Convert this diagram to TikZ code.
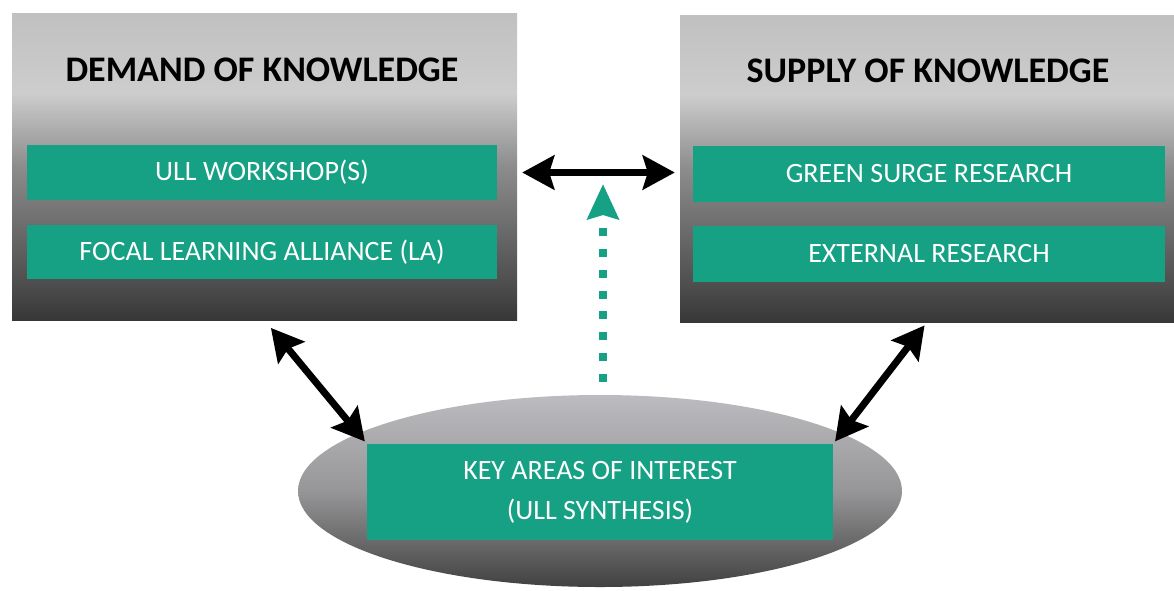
\documentclass[tikz,border=0pt]{standalone}
\usepackage{fontspec}
\setmainfont{Carlito}
\usetikzlibrary{arrows.meta,shapes.geometric,calc}

\definecolor{teal}{RGB}{22,160,132}
\definecolor{pnlbot}{RGB}{55,55,55}
\definecolor{pnllow}{RGB}{78,78,78}
\definecolor{pnlmid}{RGB}{140,140,140}
\definecolor{pnlhi}{RGB}{205,205,205}
\definecolor{pnltop}{RGB}{192,192,192}
\definecolor{elbot}{RGB}{65,65,65}
\definecolor{elmid}{RGB}{150,150,152}
\definecolor{eltop}{RGB}{188,188,192}

% the shading's 25bp..75bp band is mapped onto the filled path
\pgfdeclareverticalshading{panelshade}{100bp}{%
  color(0bp)=(pnlbot); color(25bp)=(pnlbot); color(31bp)=(pnllow);
  color(50bp)=(pnlmid); color(62bp)=(pnlhi); color(75bp)=(pnltop);
  color(100bp)=(pnltop)}
\pgfdeclareverticalshading{ovalshade}{100bp}{%
  color(0bp)=(elbot); color(25bp)=(elbot); color(50bp)=(elmid);
  color(75bp)=(eltop); color(100bp)=(eltop)}

\tikzset{
  panel/.style={rectangle, shading=panelshade, draw=none, inner sep=0pt},
  title/.style={font=\fontsize{36}{40}\selectfont\bfseries, text=black},
  bar/.style={rectangle, fill=teal, text=white, inner sep=0pt,
    font=\fontsize{28}{40}\selectfont, align=center},
  oval/.style={ellipse, shading=ovalshade, draw=none, inner sep=0pt},
  link/.style={line width=7pt, black,
    {Stealth[length=32pt,width=34pt,inset=5pt]}-{Stealth[length=32pt,width=34pt,inset=5pt]}},
  hint/.style={line width=8pt, teal, dash pattern=on 8pt off 12.8pt,
    -{Stealth[length=35pt,width=31pt,inset=4pt]}}
}

\begin{document}
\begin{tikzpicture}[x=1pt,y=-1pt]
  \useasboundingbox (0,0) rectangle (1174,590);

  % two knowledge panels
  \node[panel, minimum width=505pt, minimum height=307pt] (lbox) at (264.5,166.5) {};
  \node[panel, minimum width=494pt, minimum height=307pt] (rbox) at (927,168.5) {};
  \node[title] (ltitle) at (262,70) {DEMAND OF KNOWLEDGE};
  \node[title] (rtitle) at (928,71) {SUPPLY OF KNOWLEDGE};

  \node[bar, minimum width=470pt, minimum height=55pt] (ws) at (262,172.5) {ULL WORKSHOP(S)};
  \node[bar, minimum width=470pt, minimum height=54pt] (la) at (262,252) {FOCAL LEARNING ALLIANCE (LA)};
  \node[bar, minimum width=472pt, minimum height=56pt] (gs) at (929,174) {GREEN SURGE RESEARCH};
  \node[bar, minimum width=472pt, minimum height=56pt] (ext) at (929,254) {EXTERNAL RESEARCH};

  % synthesis oval
  \node[oval, minimum width=604pt, minimum height=192pt] (ell) at (600,491) {};
  \node[bar, minimum width=466pt, minimum height=96pt] (key) at (600,492)
    {KEY AREAS OF INTEREST\\(ULL SYNTHESIS)};

  % connectors
  \draw[link, shorten <=5pt, shorten >=5pt] (lbox.east |- ws) -- (rbox.west |- ws);
  \draw[link, shorten <=10pt, shorten >=3pt] (lbox.south) -- (key.north west);
  \draw[link, shorten <=4pt, shorten >=3pt] (rbox.south) -- (key.north east);

  \coordinate (dtip) at (603,184);
  \draw[hint, shorten <=13pt] (ell.north -| dtip) -- (dtip);
\end{tikzpicture}
\end{document}
